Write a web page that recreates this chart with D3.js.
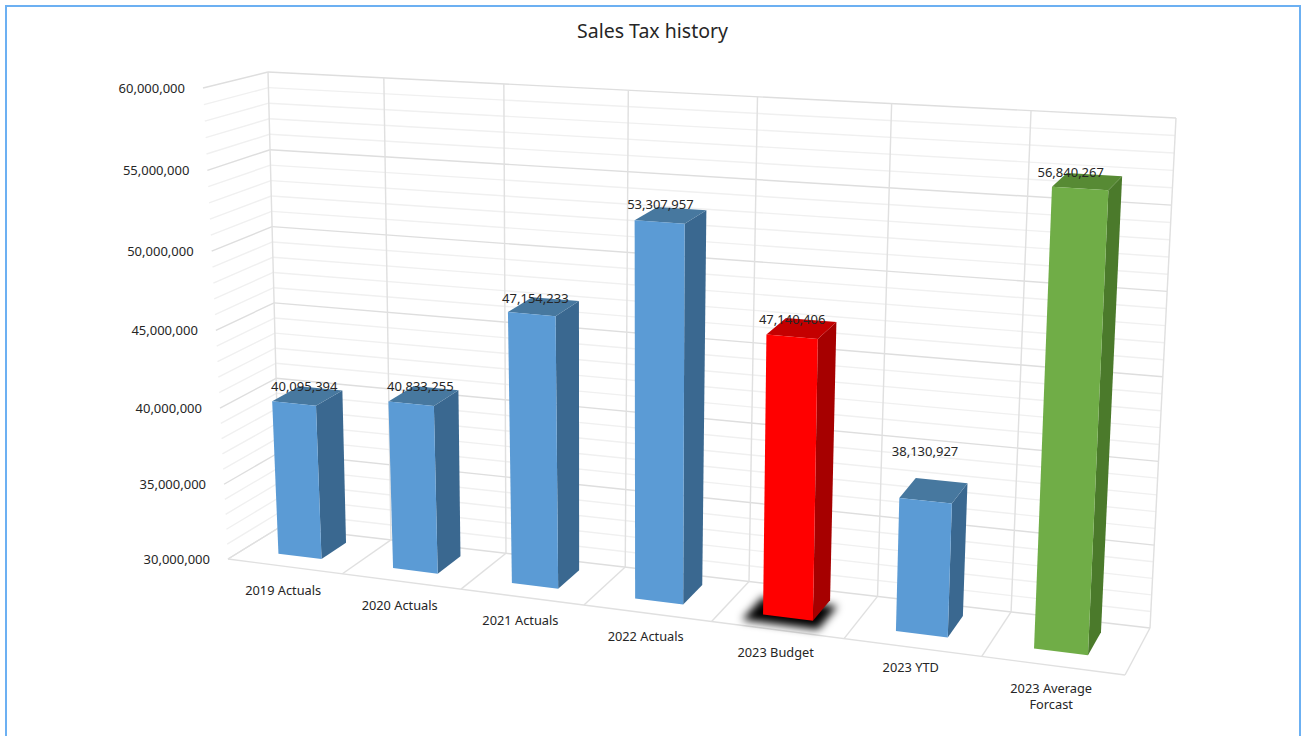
<!DOCTYPE html>
<html>
<head>
<meta charset="utf-8">
<script src="https://cdn.jsdelivr.net/npm/d3@7"></script>
<style>
  html, body { margin: 0; padding: 0; background: #fff; }
  svg { display: block; }
  text { font-family: "Noto Sans", sans-serif; fill: #262626; }
</style>
</head>
<body>
<div id="chart"></div>
<script>
var categories = ["2019 Actuals", "2020 Actuals", "2021 Actuals", "2022 Actuals", "2023 Budget", "2023 YTD", "2023 Average Forcast"];
var salesTax = [40095394, 40833255, 47154233, 53307957, 47140406, 38130927, 56840267];
var barKinds = ["actual", "actual", "actual", "actual", "budget", "actual", "forecast"];
var yMin = 30000000, yMax = 60000000;
var majorTicks = d3.range(yMin, yMax + 1, 5000000);
var minorTicks = d3.range(yMin, yMax + 1, 1000000);

var width = 1301, height = 736;

// box corners in pixels, the 3d walls are interpolated between them
var backTL = [268, 72], backTR = [1176, 118], backBR = [1150, 628], backBL = [280, 527];
var frontTL = [203, 88], frontTR = [1150, 143], frontBR = [1125, 675], frontBL = [228, 559];

// value label nudges against the top of each bar
var labelDx = [-4, -4, -9, -11, -10, -9, -17];
var labelDy = [-9, -9, -8, -10, -8, -39, -9];
// category label nudges against the front edge
var catDy = [1, 1, 0, 0, -1, -3, 0];

var shades = {
  actual: { front: "#5b9bd5", side: "#3a6890", top: "#47789f" },
  budget: { front: "#ff0000", side: "#a60000", top: "#c40000" },
  forecast: { front: "#70ad47", side: "#4b7a2b", top: "#578a34" }
};

var x = d3.scaleBand().domain(categories).range([0, 1]).paddingInner(0.62).paddingOuter(0.31);
var y = d3.scaleLinear().domain([yMin, yMax]).range([0, 1]);

function warp(t, k) { return t / (t + k * (1 - t)); }
function mix(a, b, t) { return [a[0] + (b[0] - a[0]) * t, a[1] + (b[1] - a[1]) * t]; }

// u across, v up, z from back wall (0) to front (1)
function project(u, v, z) {
  var uu = warp(u, 1.14), zz = warp(z, 1.3);
  var back = mix(mix(backBL, backBR, uu), mix(backTL, backTR, uu), warp(v, 1.03));
  var front = mix(mix(frontBL, frontBR, uu), mix(frontTL, frontTR, uu), warp(v, 1.06));
  return mix(back, front, zz);
}

var line = d3.line();

var svg = d3.select("#chart").append("svg").attr("width", width).attr("height", height);

var defs = svg.append("defs");
defs.append("filter").attr("id", "soft").attr("x", "-30%").attr("y", "-60%").attr("width", "160%").attr("height", "220%")
  .append("feGaussianBlur").attr("stdDeviation", 4);

// frame of the pasted picture
svg.append("path")
  .attr("d", "M6,736V6H1300V736")
  .attr("fill", "none").attr("stroke", "#6cb0f2").attr("stroke-width", 2);

svg.append("text").attr("x", 652.5).attr("y", 38).attr("text-anchor", "middle")
  .style("font-size", "19.5px").text("Sales Tax history");

var grid = svg.append("g").attr("fill", "none");

minorTicks.forEach(function(t) {
  var major = majorTicks.indexOf(t) >= 0;
  var stroke = major ? "#dedede" : "#f0f0f0";
  // back wall
  grid.append("path").attr("d", line([project(0, y(t), 0), project(1, y(t), 0)])).attr("stroke", stroke).attr("stroke-width", 1.4);
  // left wall
  grid.append("path").attr("d", line([project(0, y(t), 0), project(0, y(t), 1)])).attr("stroke", stroke).attr("stroke-width", 1.4);
});

d3.range(categories.length + 1).forEach(function(i) {
  var u = i * x.step();
  grid.append("path").attr("d", line([project(u, 0, 0), project(u, 1, 0)])).attr("stroke", "#e0e0e0").attr("stroke-width", 1.4);
  grid.append("path").attr("d", line([project(u, 0, 0), project(u, 0, 1)])).attr("stroke", "#e0e0e0").attr("stroke-width", 1.4);
});
grid.append("path").attr("d", line([project(0, 0, 1), project(1, 0, 1)])).attr("stroke", "#e0e0e0").attr("stroke-width", 1.4);

// y axis labels
svg.append("g").selectAll("text").data(majorTicks).enter().append("text")
  .attr("x", function(d) { return project(0, y(d), 1)[0] - 18; })
  .attr("y", function(d) { return project(0, y(d), 1)[1] + 4.5; })
  .attr("text-anchor", "end")
  .style("font-size", "13px")
  .text(d3.format(","));

// category labels, the last one wraps
var catLabels = svg.append("g").selectAll("text").data(categories).enter().append("text")
  .attr("text-anchor", "middle")
  .style("font-size", "12.8px")
  .attr("transform", function(d, i) {
    var p = project(x(d) + x.bandwidth() / 2, 0, 1);
    return "translate(" + (p[0] - 1.5) + "," + (p[1] + 27.5 + catDy[i]) + ")";
  });
catLabels.each(function(d) {
  var parts = d === "2023 Average Forcast" ? ["2023 Average", "Forcast"] : [d];
  d3.select(this).selectAll("tspan").data(parts).enter().append("tspan")
    .attr("x", 0).attr("dy", function(p, i) { return i * 16; }).text(function(p) { return p; });
});

var zBack = 0.25, zFront = 0.75;

// shadow under the budget bar
categories.forEach(function(c, i) {
  if (barKinds[i] !== "budget") return;
  var u0 = x(c) - 0.016, u1 = x(c) + x.bandwidth() + 0.012;
  svg.append("path")
    .attr("d", line([project(u0, 0, zFront + 0.15), project(u1, 0, zFront + 0.15), project(u1, 0, zBack + 0.12), project(u0, 0, zBack + 0.12)]) + "Z")
    .attr("fill", "#000")
    .attr("filter", "url(#soft)");
});

var bars = svg.append("g").selectAll("g").data(salesTax).enter().append("g");

bars.each(function(d, i) {
  var g = d3.select(this);
  var u0 = x(categories[i]), u1 = u0 + x.bandwidth(), v = y(d);
  var c = shades[barKinds[i]];
  g.append("path").attr("fill", c.side)
    .attr("d", line([project(u1, 0, zFront), project(u1, 0, zBack), project(u1, v, zBack), project(u1, v, zFront)]) + "Z");
  g.append("path").attr("fill", c.top)
    .attr("d", line([project(u0, v, zFront), project(u1, v, zFront), project(u1, v, zBack), project(u0, v, zBack)]) + "Z");
  g.append("path").attr("fill", c.front)
    .attr("d", line([project(u0, 0, zFront), project(u1, 0, zFront), project(u1, v, zFront), project(u0, v, zFront)]) + "Z");
});

svg.append("g").selectAll("text").data(salesTax).enter().append("text")
  .attr("text-anchor", "middle")
  .style("font-size", "13px")
  .attr("x", function(d, i) { return project(x(categories[i]) + x.bandwidth() / 2, y(d), 0.5)[0] + labelDx[i]; })
  .attr("y", function(d, i) { return project(x(categories[i]) + x.bandwidth() / 2, y(d), 0.5)[1] + labelDy[i] + 4.5; })
  .text(d3.format(","));
</script>
</body>
</html>
